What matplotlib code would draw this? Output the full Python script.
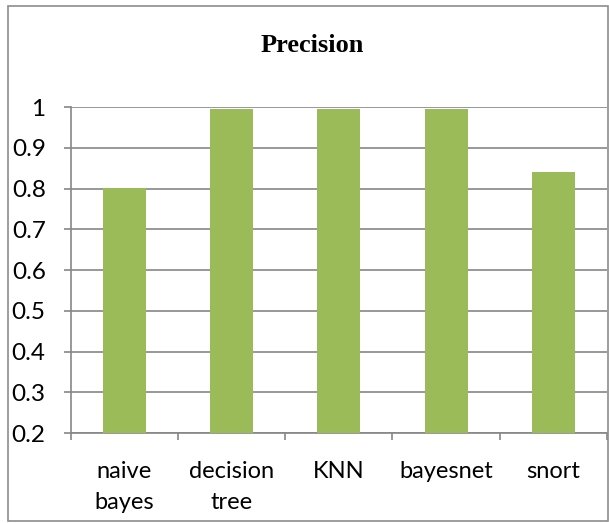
import matplotlib

matplotlib.use("Agg")

import matplotlib.pyplot as plt
from matplotlib.patches import Rectangle

# Chart data
categories = ["naive\nbayes", "decision\ntree", "KNN", "bayesnet", "snort"]
precision = [0.802, 0.996, 0.996, 0.996, 0.841]
y_ticks = [0.2, 0.3, 0.4, 0.5, 0.6, 0.7, 0.8, 0.9, 1.0]
y_tick_labels = ["0.2", "0.3", "0.4", "0.5", "0.6", "0.7", "0.8", "0.9", "1"]

bar_color = "#9BBB59"
grid_color = "#868686"

fig = plt.figure(figsize=(6.09, 5.23), dpi=100)
ax = fig.add_axes([0.116, 0.172, 0.8808, 0.623])

x = range(len(categories))
ax.bar(x, precision, width=0.4, color=bar_color, zorder=3)

ax.set_xlim(-0.5, len(categories) - 0.5)
ax.set_ylim(0.2, 1.0)
ax.set_yticks(y_ticks)
ax.set_yticklabels(y_tick_labels)
ax.yaxis.grid(True, color=grid_color, linewidth=1.2, zorder=0)
ax.set_axisbelow(True)

# category ticks sit at the boundaries between bars
ax.set_xticks([i - 0.5 for i in range(len(categories) + 1)], minor=False)
ax.set_xticklabels([""] * (len(categories) + 1))
ax.set_xticks(list(x), minor=True)
ax.set_xticklabels(categories, minor=True, fontsize=17, family="Lato",
                   linespacing=1.6)
ax.tick_params(axis="x", which="minor", length=0, pad=20)
ax.tick_params(axis="x", which="major", length=5, color=grid_color, width=1.2)
ax.tick_params(axis="y", length=5, color=grid_color, width=1.2, pad=13,
               labelsize=17.5)
for lab in ax.get_yticklabels():
    lab.set_family("Lato")

for side in ["top", "right"]:
    ax.spines[side].set_visible(False)
for side in ["left", "bottom"]:
    ax.spines[side].set_color(grid_color)
    ax.spines[side].set_linewidth(1.2)

fig.text(0.513, 0.9, "Precision", ha="center", va="baseline",
         fontsize=19, fontweight="bold", family="Liberation Serif")

# outer chart frame
fig.patches.append(Rectangle((0.013, 0.003), 0.985, 0.985, transform=fig.transFigure,
                             fill=False, edgecolor="#8c8c8c", linewidth=1.2))

fig.savefig("out.png", dpi=100)
